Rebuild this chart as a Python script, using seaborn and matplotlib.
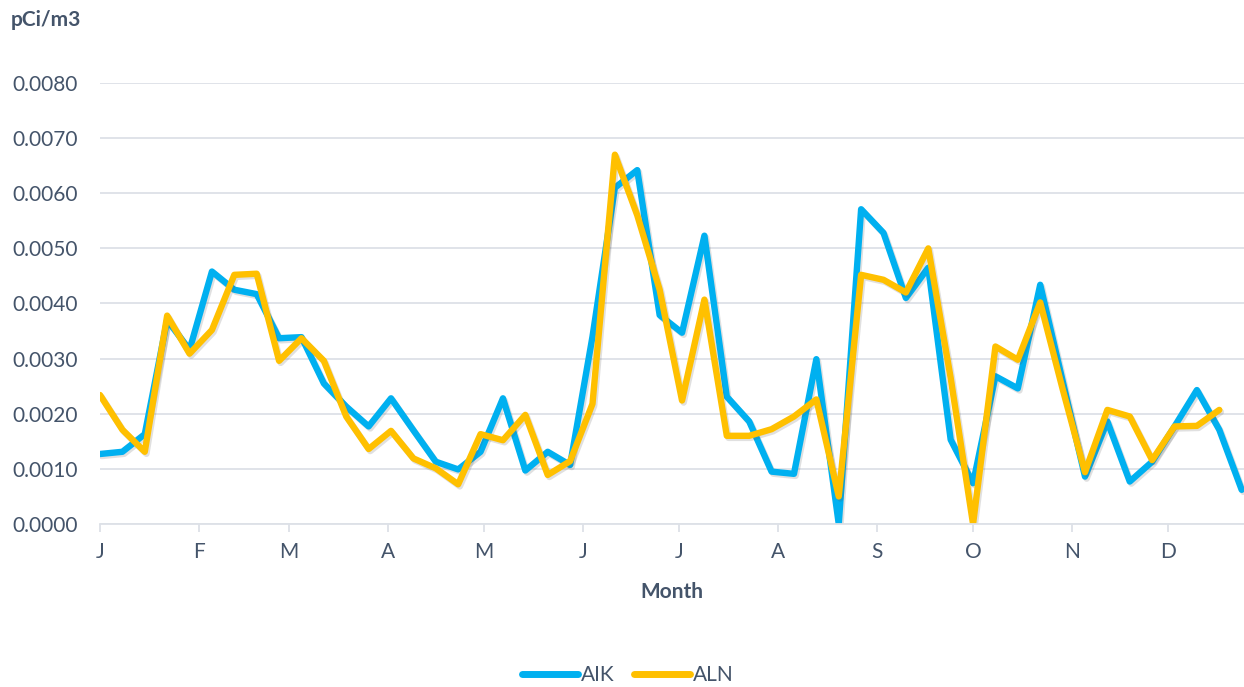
import numpy as np
import pandas as pd
import matplotlib
matplotlib.use("Agg")
import matplotlib.pyplot as plt
import matplotlib.dates as mdates
import matplotlib.patheffects as pe
import seaborn as sns

# ---- data (pCi/m3, weekly samples) ----
start_date = "2021-01-01"
week_offsets = list(range(0, 358, 7))  # days from Jan 1
aik = [1.27, 1.31, 1.63, 3.70, 3.16, 4.58, 4.25, 4.17, 3.37, 3.39,
       2.55, 2.13, 1.77, 2.28, 1.70, 1.13, 0.99, 1.31, 2.28, 0.97,
       1.31, 1.07, 3.40, 6.10, 6.42, 3.79, 3.47, 5.23, 2.31, 1.86,
       0.95, 0.91, 2.99, 0.00, 5.71, 5.28, 4.10, 4.65, 1.53, 0.74,
       2.68, 2.46, 4.34, 2.60, 0.86, 1.86, 0.77, 1.13, 1.77, 2.43,
       1.71, 0.62]
aln = [2.34, 1.71, 1.31, 3.78, 3.09, 3.52, 4.52, 4.54, 2.96, 3.37,
       2.96, 1.95, 1.36, 1.69, 1.19, 1.01, 0.72, 1.63, 1.52, 1.98,
       0.89, 1.14, 2.18, 6.70, 5.60, 4.25, 2.24, 4.07, 1.60, 1.60,
       1.72, 1.95, 2.26, 0.50, 4.52, 4.43, 4.20, 5.00, 2.65, 0.00,
       3.22, 2.98, 4.02, 2.45, 0.94, 2.07, 1.95, 1.16, 1.77, 1.78,
       2.07]
series_names = ["AIK", "ALN"]
y_ticks = [0.000, 0.001, 0.002, 0.003, 0.004, 0.005, 0.006, 0.007, 0.008]

# ---- long-form table ----
base = pd.Timestamp(start_date)
rows = []
for name, vals in zip(series_names, [aik, aln]):
    for d, v in zip(week_offsets, vals):
        rows.append({"date": base + pd.Timedelta(days=d), "value": v / 1000.0, "station": name})
df = pd.DataFrame(rows)

# ---- style ----
sns.set_theme(style="white")
plt.rcParams["font.family"] = ["Lato", "DejaVu Sans"]
text_color = "#44546A"
grid_color = "#DDE1E7"
colors = {"AIK": "#00B0F0", "ALN": "#FFC000"}

W, H = 1244, 687
fig = plt.figure(figsize=(W / 100, H / 100), dpi=100)
ax_left, ax_right, ax_top, ax_bottom = 100, 1244, 83, 524
ax = fig.add_axes([ax_left / W, 1 - ax_bottom / H,
                   (ax_right - ax_left) / W, (ax_bottom - ax_top) / H])

sns.lineplot(data=df, x="date", y="value", hue="station", palette=colors,
             hue_order=series_names, linewidth=4.6, ax=ax, legend=False,
             sort=False)
for ln in ax.get_lines():
    ln.set_solid_joinstyle("round")
    ln.set_solid_capstyle("round")
    ln.set_path_effects([pe.SimpleLineShadow(offset=(1.2, -1.5), alpha=0.18,
                                             shadow_color="#555555"),
                         pe.Normal()])

# axes limits
px_per_day = 3.198
ax.set_xlim(base, base + pd.Timedelta(days=(ax_right - ax_left) / px_per_day))
ax.set_ylim(0, 0.008)

# y axis
ax.set_yticks(y_ticks)
ax.yaxis.set_major_formatter(matplotlib.ticker.FuncFormatter(lambda v, p: f"{v:.4f}"))
ax.tick_params(axis="y", length=0, pad=16, labelsize=15, labelcolor=text_color)
ax.grid(axis="y", color=grid_color, linewidth=1.3)
ax.grid(axis="x", visible=False)

# x axis
ax.xaxis.set_major_locator(mdates.MonthLocator())
ax.xaxis.set_major_formatter(matplotlib.ticker.FuncFormatter(
    lambda x, p: mdates.num2date(x).strftime("%b")[0]))
ax.tick_params(axis="x", bottom=True, length=6, width=1.3, color=grid_color,
               pad=7, labelsize=15, labelcolor=text_color)

for s in ["top", "right", "left"]:
    ax.spines[s].set_visible(False)
ax.spines["bottom"].set_color(grid_color)
ax.spines["bottom"].set_linewidth(1.3)

# labels
ax.set_xlabel("Month", fontsize=15, fontweight="bold", color=text_color)
ax.xaxis.set_label_coords(0.5, -(592 - ax_bottom) / (ax_bottom - ax_top))
ax.xaxis.label.set_verticalalignment("center")
ax.set_ylabel("pCi/m3", fontsize=15, fontweight="bold", color=text_color, rotation=0)
ax.yaxis.set_label_coords((11 - ax_left) / (ax_right - ax_left),
                          (ax_bottom - 20) / (ax_bottom - ax_top))
ax.yaxis.label.set_horizontalalignment("left")
ax.yaxis.label.set_verticalalignment("center")

# legend
handles = [plt.Line2D([0], [0], color=colors[n], linewidth=5, solid_capstyle="round")
           for n in series_names]
leg = fig.legend(handles, series_names, loc="center", bbox_to_anchor=(628 / W, 1 - 675 / H),
                 ncol=2, frameon=False, fontsize=15, handlelength=2.7,
                 handletextpad=0.15, columnspacing=0.9)
for t in leg.get_texts():
    t.set_color(text_color)

fig.savefig("out.png", dpi=100)
